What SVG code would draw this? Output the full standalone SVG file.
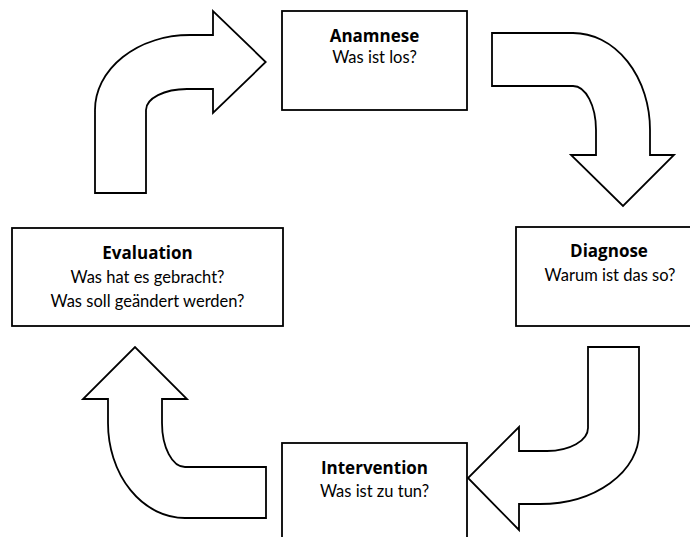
<svg xmlns="http://www.w3.org/2000/svg" width="690" height="537" viewBox="0 0 690 537">
<style>
.box{fill:#fff;stroke:#000;stroke-width:1.8}
.arr{fill:#fff;stroke:#000;stroke-width:1.8;stroke-linejoin:miter}
text{font-family:Lato,"Liberation Sans",sans-serif;font-size:16.5px;fill:#000;text-anchor:middle}
.t{font-family:"Open Sans","Liberation Sans",sans-serif;font-weight:bold;font-size:17px}
</style>
<rect width="690" height="537" fill="#fff"/>
<g id="connectors">
<path class="arr" d="M95,193 L95,110 A95,75 0 0 1 190,35 L213,35 L213,11 L265.7,62 L213,113 L213,89 L187,89 A41,21 0 0 0 146,110 L146,193 Z"/>
<path class="arr" d="M492,33 L573,33 A77,97 0 0 1 650,130 L650,155 L674,155 L623,206 L571,155 L596,155 L596,130 A23,44 0 0 0 573,86 L492,86 Z"/>
<path class="arr" d="M588,347 L639,347 L639,433 A99,71 0 0 1 540,504 L519,504 L519,530 L468,478 L519,427 L519,451 L547,451 A41,23 0 0 0 588,428 Z"/>
<path class="arr" d="M266,467 L185,467 A23,44 0 0 1 162,423 L162,399 L187,399 L135,347 L83,399 L108,399 L108,423 A77,95 0 0 0 185,518 L266,518 Z"/>
</g>
<g id="anamnese">
<rect class="box" x="282" y="11" width="185" height="99"/>
<text class="t" x="374.5" y="41.7">Anamnese</text>
<text x="374.5" y="63.3">Was ist los?</text>
</g>
<g id="diagnose">
<rect class="box" x="516" y="227" width="186" height="99"/>
<text class="t" x="609" y="257.3">Diagnose</text>
<text x="610" y="280.7">Warum ist das so?</text>
</g>
<g id="intervention">
<rect class="box" x="282" y="443" width="185" height="99"/>
<text class="t" x="374.5" y="474">Intervention</text>
<text x="374.5" y="497.3">Was ist zu tun?</text>
</g>
<g id="evaluation">
<rect class="box" x="12" y="228" width="271" height="98"/>
<text class="t" x="147.5" y="259.3">Evaluation</text>
<text x="147.5" y="283.3">Was hat es gebracht?</text>
<text x="147.5" y="307.3">Was soll geändert werden?</text>
</g>
</svg>
